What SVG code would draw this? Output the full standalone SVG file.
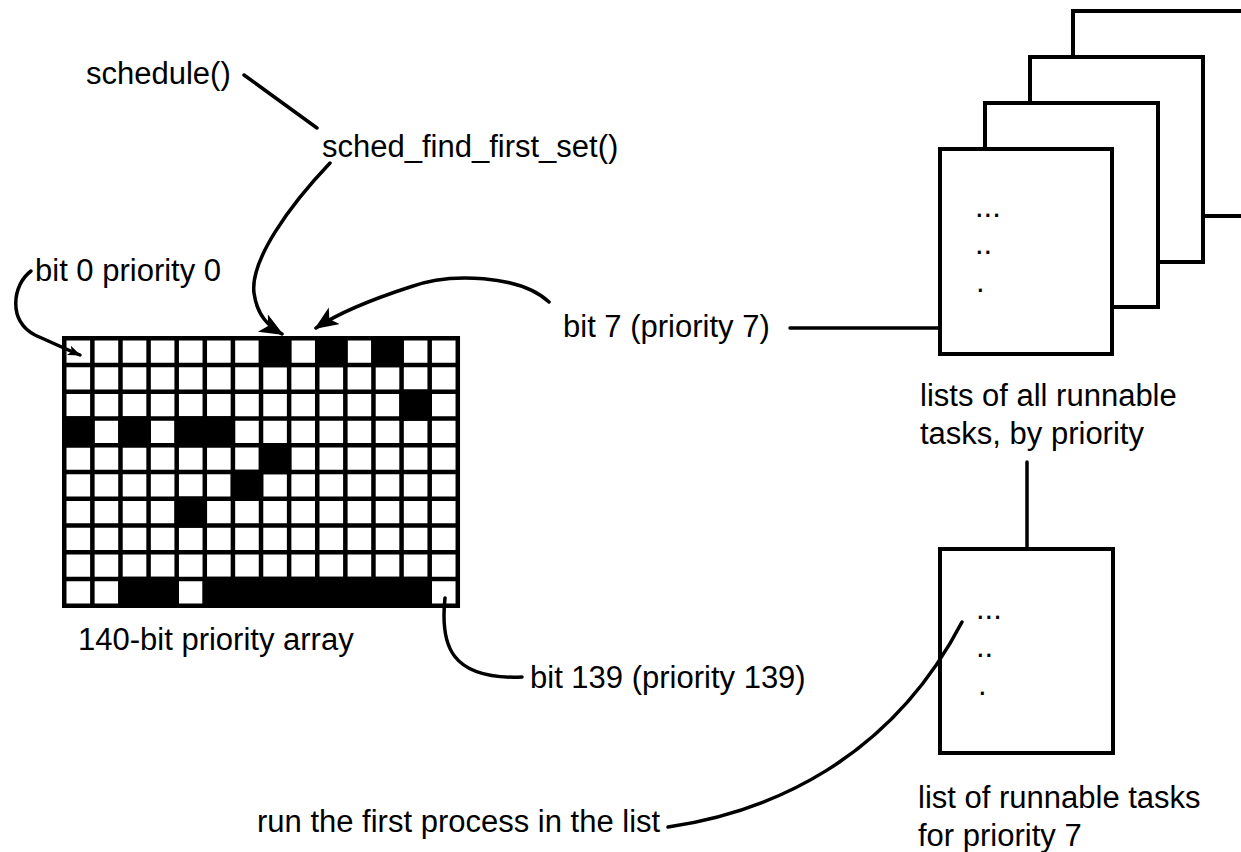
<svg xmlns="http://www.w3.org/2000/svg" width="1241" height="852" viewBox="0 0 1241 852">
<style>
text{font-family:"Liberation Sans",Arial,sans-serif;font-size:31px;fill:#000}
.ln{fill:none;stroke:#000;stroke-width:3.5;stroke-linecap:round}
.box{fill:#fff;stroke:#000;stroke-width:4}
.g{stroke:#000;stroke-width:4.5}
.f{fill:#000}
</style>
<defs>
<marker id="big" markerUnits="userSpaceOnUse" markerWidth="26" markerHeight="22" refX="22" refY="10" orient="auto">
<path d="M0,0 L24,10 L0,20 L6,10 z" fill="#000"/>
</marker>
<marker id="small" markerUnits="userSpaceOnUse" markerWidth="14" markerHeight="12" refX="12" refY="5" orient="auto">
<path d="M0,0 L13,5 L0,10 L3,5 z" fill="#000"/>
</marker>
</defs>
<rect width="1241" height="852" fill="#fff"/>

<g id="grid">
<rect x="62" y="336" width="398" height="272" fill="#fff"/>
<rect class="f" x="258.77" y="336" width="32.61" height="31.25"/>
<rect class="f" x="314.99" y="336" width="32.61" height="31.25"/>
<rect class="f" x="371.21" y="336" width="32.61" height="31.25"/>
<rect class="f" x="399.32" y="389.5" width="32.61" height="31.25"/>
<rect class="f" x="62" y="416.25" width="32.61" height="31.25"/>
<rect class="f" x="118.22" y="416.25" width="32.61" height="31.25"/>
<rect class="f" x="174.44" y="416.25" width="60.72" height="31.25"/>
<rect class="f" x="258.77" y="443" width="32.61" height="31.25"/>
<rect class="f" x="230.66" y="469.75" width="32.61" height="31.25"/>
<rect class="f" x="174.44" y="496.5" width="32.61" height="31.25"/>
<rect class="f" x="118.22" y="576.75" width="60.72" height="31.25"/>
<rect class="f" x="202.55" y="576.75" width="229.38" height="31.25"/>
<path class="g" d="M64.25 336V608M92.36 336V608M120.47 336V608M148.58 336V608M176.69 336V608M204.8 336V608M232.91 336V608M261.02 336V608M289.13 336V608M317.24 336V608M345.35 336V608M373.46 336V608M401.57 336V608M429.68 336V608M457.79 336V608"/>
<path class="g" d="M62 338.25H460M62 365H460M62 391.75H460M62 418.5H460M62 445.25H460M62 472H460M62 498.75H460M62 525.5H460M62 552.25H460M62 579H460M62 605.75H460"/>
<text x="78" y="650">140-bit priority array</text>
</g>

<g id="schedule"><text x="86" y="84">schedule()</text></g>
<g id="sched_find_first_set"><text x="322" y="157">sched_find_first_set()</text></g>
<g id="bit0"><text x="35" y="281">bit 0 priority 0</text></g>
<g id="bit7"><text x="563" y="337">bit 7 (priority 7)</text></g>
<g id="bit139"><text x="530" y="688">bit 139 (priority 139)</text></g>
<g id="run"><text x="257" y="832">run the first process in the list</text></g>

<g id="all-lists">
<rect class="box" x="1073" y="11" width="172" height="205"/>
<rect class="box" x="1030" y="57" width="173" height="205"/>
<rect class="box" x="985" y="103" width="173" height="204"/>
<rect class="box" x="940" y="149" width="172" height="205"/>
<text x="975" y="217">...</text>
<text x="975" y="254">..</text>
<text x="976" y="292">.</text>
<text x="920" y="406">lists of all runnable</text>
<text x="920" y="444">tasks, by priority</text>
</g>

<g id="list7">
<rect class="box" x="940" y="549" width="173" height="204"/>
<text x="976" y="619">...</text>
<text x="976" y="657">..</text>
<text x="978" y="695">.</text>
<text x="918" y="808">list of runnable tasks</text>
<text x="918" y="846">for priority 7</text>
</g>

<g id="connectors">
<path class="ln" d="M244 75 L317 128"/>
<path class="ln" d="M330 163 C290 205,250 260,254 293 C257 315,268 326,282 334" marker-end="url(#big)"/>
<path class="ln" d="M549 302 C520 275,450 272,410 287 C370 300,340 312,316 328" marker-end="url(#big)"/>
<path class="ln" d="M31 271 C12 285,8 322,35 335 C55 344,68 350,80 355" marker-end="url(#small)"/>
<path class="ln" d="M445 598 C440 645,450 680,522 677"/>
<path class="ln" d="M790 328 L940 328"/>
<path class="ln" d="M1027 462 L1027 549"/>
<path class="ln" d="M668 827 C770 812,890 760,962 622"/>
</g>
</svg>
